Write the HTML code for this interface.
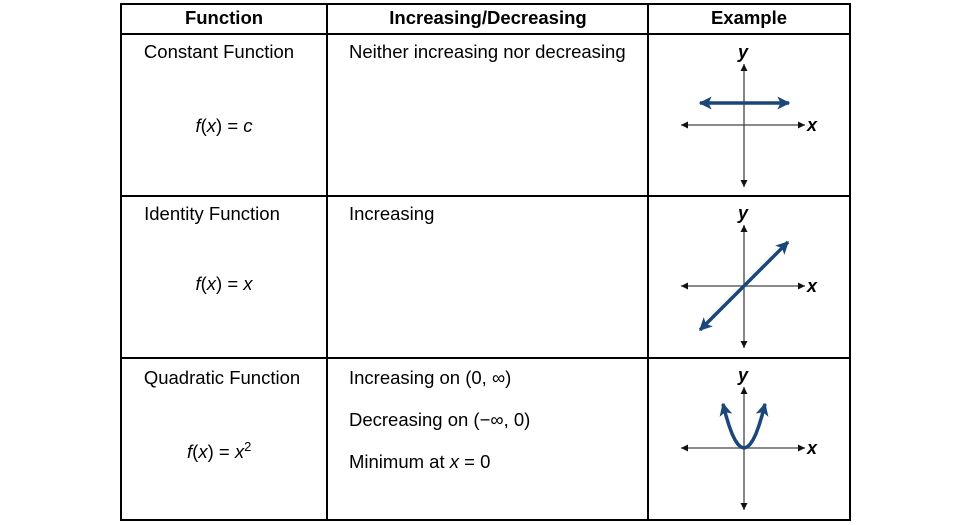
<!DOCTYPE html>
<html><head><meta charset="utf-8"><style>
html,body{margin:0;padding:0;background:#fff;}
svg{display:block;font-family:"Liberation Sans",sans-serif;}
</style></head><body>
<svg id="s" width="975" height="525" viewBox="0 0 975 525">
<defs>
<marker id="ka" viewBox="0 0 10 10" refX="10" refY="5" markerWidth="11" markerHeight="7" markerUnits="userSpaceOnUse" orient="auto"><path d="M0,0 L10,5 L0,10 z" fill="#111"/></marker>
<marker id="ba" viewBox="0 0 10 10" refX="9" refY="5" markerWidth="20" markerHeight="13" markerUnits="userSpaceOnUse" orient="auto"><path d="M0,0 L10,5 L0,10 L2.5,5 z" fill="#1b4679"/></marker>
</defs>
<g stroke="#000" stroke-width="2" fill="none">
<rect x="121" y="4" width="729" height="516"/>
<line x1="327" y1="4" x2="327" y2="520"/>
<line x1="648" y1="4" x2="648" y2="520"/>
<line x1="121" y1="34" x2="850" y2="34"/>
<line x1="121" y1="196" x2="850" y2="196"/>
<line x1="121" y1="358" x2="850" y2="358"/>
</g>
<g font-size="18.5" fill="#000">
<text x="224" y="24" text-anchor="middle" font-weight="bold">Function</text>
<text x="488" y="24" text-anchor="middle" font-weight="bold">Increasing/Decreasing</text>
<text x="749" y="24" text-anchor="middle" font-weight="bold">Example</text>
<text x="219" y="58" text-anchor="middle">Constant Function</text>
<text x="224" y="132" text-anchor="middle"><tspan font-style="italic">f</tspan>(<tspan font-style="italic">x</tspan>) = <tspan font-style="italic">c</tspan></text>
<text x="349" y="58">Neither increasing nor decreasing</text>
<text x="212" y="220" text-anchor="middle">Identity Function</text>
<text x="224" y="290" text-anchor="middle"><tspan font-style="italic">f</tspan>(<tspan font-style="italic">x</tspan>) = <tspan font-style="italic">x</tspan></text>
<text x="349" y="220">Increasing</text>
<text x="222" y="384" text-anchor="middle">Quadratic Function</text>
<text x="187" y="458"><tspan font-style="italic">f</tspan>(<tspan font-style="italic">x</tspan>) = <tspan font-style="italic">x</tspan><tspan font-size="13" dy="-7">2</tspan></text>
<text x="349" y="384">Increasing on (0, ∞)</text>
<text x="349" y="426">Decreasing on (−∞, 0)</text>
<text x="349" y="468">Minimum at <tspan font-style="italic">x</tspan> = 0</text>
</g>
<g id="graphs"></g>
</svg>
<script>
const centersY = [125, 286, 448];
const constLine = [[-44, -22], [45, -22]];
const identLine = [[-44, 44], [44, -44]];
const quadXs = [-21, -18, -15, -12, -9, -6, -3, 0, 3, 6, 9, 12, 15, 18, 21];
const quadK = 0.1;
const cx = 744;
const NS = 'http://www.w3.org/2000/svg';
const g = document.getElementById('graphs');
function mk(tag, attrs, parent) {
  const e = document.createElementNS(NS, tag);
  for (const k in attrs) e.setAttribute(k, attrs[k]);
  (parent || g).appendChild(e);
  return e;
}
centersY.forEach((cy, i) => {
  const grp = mk('g', {});
  
  
  const xa = mk('line', {x1: cx, y1: cy, x2: cx + 61, y2: cy, stroke: '#444', 'stroke-width': 1.3, 'marker-end': 'url(#ka)'}, grp);
  
  
  mk('line', {x1: cx, y1: cy, x2: cx - 63, y2: cy, stroke: '#444', 'stroke-width': 1.3, 'marker-end': 'url(#ka)'}, grp);
  const ya = mk('line', {x1: cx, y1: cy, x2: cx, y2: cy - 61, stroke: '#444', 'stroke-width': 1.3, 'marker-end': 'url(#ka)'}, grp);
  
  
  mk('line', {x1: cx, y1: cy, x2: cx, y2: cy + 62, stroke: '#444', 'stroke-width': 1.3, 'marker-end': 'url(#ka)'}, grp);
  const tx = mk('text', {x: cx + 63, y: cy + 6, 'font-size': 18, 'font-style': 'italic', 'font-weight': 'bold', fill: '#000'}, grp);
  tx.textContent = 'x';
  
  
  const ty = mk('text', {x: cx - 6, y: cy - 67, 'font-size': 18, 'font-style': 'italic', 'font-weight': 'bold', fill: '#000'}, grp);
  ty.textContent = 'y';
  
  
  let curve;
  if (i < 2) {
    const L = i === 0 ? constLine : identLine;
    const mx = (L[0][0] + L[1][0]) / 2, my = (L[0][1] + L[1][1]) / 2;
    mk('line', {x1: cx + mx, y1: cy + my, x2: cx + L[0][0], y2: cy + L[0][1], stroke: '#1b4679', 'stroke-width': 3.5, 'marker-end': 'url(#ba)'}, grp);
    curve = mk('line', {x1: cx + mx, y1: cy + my, x2: cx + L[1][0], y2: cy + L[1][1], stroke: '#1b4679', 'stroke-width': 3.5, 'marker-end': 'url(#ba)'}, grp);
  } else {
    const pts = quadXs.map(x => [cx + x, cy - quadK * x * x]);
    const mid = Math.floor(pts.length / 2);
    const left = pts.slice(0, mid + 1).reverse().map(p => p.join(',')).join(' ');
    const right = pts.slice(mid).map(p => p.join(',')).join(' ');
    mk('polyline', {points: left, fill: 'none', stroke: '#1b4679', 'stroke-width': 3.5, 'marker-end': 'url(#ba)'}, grp);
    curve = mk('polyline', {points: right, fill: 'none', stroke: '#1b4679', 'stroke-width': 3.5, 'marker-end': 'url(#ba)'}, grp);
  }
  
  
});
</script>
</body></html>
